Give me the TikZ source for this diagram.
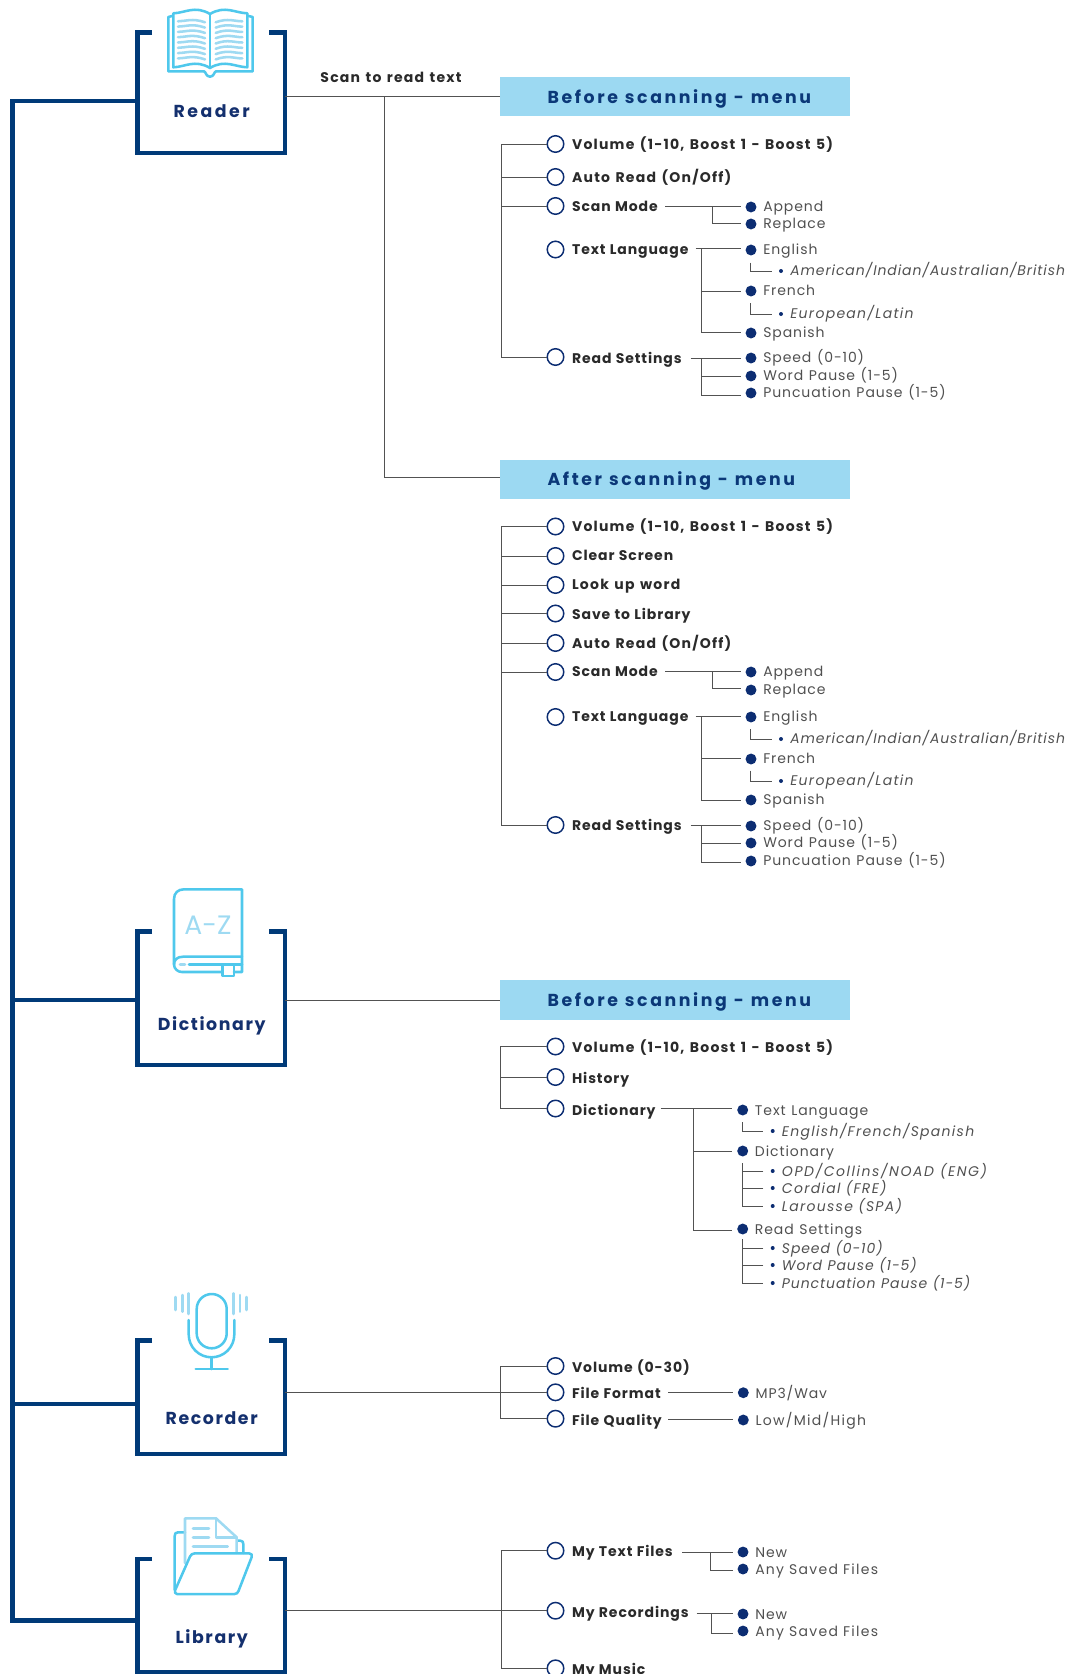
\documentclass[tikz,border=0pt]{standalone}
\usepackage{fontspec}
\setmainfont{Poppins}
\newfontfamily\fLab[LetterSpace=6.5,WordSpace=1.3]{Poppins}
\newfontfamily\fLabW[LetterSpace=8.8,WordSpace=1.3]{Poppins}
\newfontfamily\fReg[LetterSpace=6.5,WordSpace=1.1]{Poppins}
\newfontfamily\fRegW[LetterSpace=9.2,WordSpace=1.1]{Poppins}
\newfontfamily\fRegX[LetterSpace=11,WordSpace=1.1]{Poppins}
\newfontfamily\fHead[LetterSpace=15,WordSpace=1.1]{Poppins}
\newfontfamily\fBox[LetterSpace=9.2]{Poppins}
\newfontfamily\fBoxWide[LetterSpace=14.5]{Poppins}
\definecolor{navy}{HTML}{003A78}
\definecolor{txtnavy}{HTML}{14306E}
\definecolor{dotnavy}{HTML}{0C2D72}
\definecolor{headblue}{HTML}{9CD9F2}
\definecolor{headtxt}{HTML}{0B3878}
\definecolor{iconA}{HTML}{4FC8EC}
\definecolor{iconB}{HTML}{9EDAF2}
\definecolor{darktxt}{HTML}{2A2A2A}
\definecolor{regtxt}{HTML}{505050}
\tikzset{
 conn/.style={draw=black!68,line width=0.75pt},
 frame/.style={draw=navy,line width=3.5pt,miter limit=10},
 navyline/.style={draw=navy,line width=3.5pt},
 ringnode/.style={circle,draw=dotnavy,line width=1.1pt,fill=white,minimum size=12.4pt,inner sep=0pt,outer sep=0pt},
 dotnode/.style={circle,fill=dotnavy,minimum size=8.2pt,inner sep=0pt,outer sep=3.75pt},
 subdot/.style={circle,fill=dotnavy,minimum size=3pt,inner sep=0pt,outer sep=0pt},
 lab/.style={anchor=mid west,inner sep=0pt,yshift=-1pt,text=darktxt,font=\fontsize{10.5}{12}\fLab\bfseries},
 reg/.style={anchor=mid west,inner sep=0pt,yshift=-1pt,text=regtxt,font=\fontsize{10.5}{12}\fReg},
 ital/.style={anchor=mid west,inner sep=0pt,yshift=-1pt,text=regtxt,font=\fontsize{10.5}{12}\fReg\itshape},
 headnode/.style={anchor=north west,fill=headblue,inner sep=0pt,minimum width=262.5pt},
 headlab/.style={anchor=mid west,inner sep=0pt,yshift=-2pt,text=headtxt,font=\fontsize{13}{15}\fHead\bfseries},
 boxlab/.style={anchor=mid,inner sep=0pt,yshift=-2pt,text=txtnavy,font=\fontsize{13}{15}\fBox\bfseries},
 iconmain/.style={draw=iconA,line width=1.9pt,line join=round,line cap=round},
 iconsoft/.style={draw=iconB,line width=1.9pt,line join=round,line cap=round},
}
\newcommand\navybox[5]{%
 \node[inner sep=0pt,outer sep=0pt,minimum width=110.4pt,minimum height={(#3-#2)*0.75pt}] (#1) at (211.4,{(#2+#3)/2}) {};
 \draw[frame] (152,#2) -- (137.8,#2) -- (137.8,#3) -- (285,#3) -- (285,#2) -- (269,#2);
 \node[boxlab] (#1L) at (211.7,#4) {#5};}
\newcommand\ringlab[5]{%
 \node[ringnode] (#1) at (555.5,#2) {};
 \node[lab] (#1L) at (571.8,#3) {#4#5};}
\newcommand\dotlab[5]{%
 \node[dotnode] (#1) at (#2,#3) {};
 \node[reg] (#1L) at (#2+12,#4) {#5};}
\newcommand\sublab[4]{%
 \node[subdot] (#1) at (#2,#3) {};
 \node[ital] (#1L) at (#2+9,#3) {#4};}
\begin{document}
\begin{tikzpicture}[x=0.75pt,y=-0.75pt]
\path[use as bounding box,clip] (0,0) rectangle (1082,1674);
% boxes
\navybox{reader}{32.3}{153}{110.7}{{\fBoxWide\bfseries Reader}}
\navybox{dict}{931.7}{1065}{1024}{Dictionary}
\navybox{recorder}{1340.5}{1454}{1417.7}{Recorder}
\navybox{library}{1559}{1672.5}{1636.7}{Library}
% main trunk
\coordinate (mT) at (12.2,101);
\coordinate (mD) at (12.2,1000);
\coordinate (mR) at (12.2,1404);
\coordinate (mB) at (12.2,1620.8);
\draw[navyline] (reader.west |- mT) -- (mT) -- (mB) -- (library.west |- mB);
\draw[navyline] (mD) -- (dict.west |- mD);
\draw[navyline] (mR) -- (recorder.west |- mR);
% headers
\node[headnode,minimum height=29pt] (h1) at (500,77) {};
\node[headlab] (h1L) at (547.3,96.7) {Before scanning - menu};
\node[headnode,minimum height=29pt] (h2) at (500,460) {};
\node[headlab] (h2L) at (547.3,479.5) {After scanning - menu};
\node[headnode,minimum height=30pt] (h3) at (500,980) {};
\node[headlab] (h3L) at (547.3,1000) {Before scanning - menu};
\coordinate (rA) at (384,96);
\coordinate (rB) at (384,477.5);
\draw[conn] (reader.east |- rA) -- (h1.west |- rA);
\draw[conn] (rA) -- (rB) -- (h2.west |- rB);
\node[lab,anchor=mid] (scan) at (391,78) {\fLabW Scan to read text};
\coordinate (dA) at (384,1000);
\draw[conn] (dict.east |- dA) -- (h3.west |- dA);
% ---- section 1
\ringlab{a1}{144}{145}{\fLabW Volume (1-10, Boost 1 - Boost 5)}{}
\ringlab{a2}{177}{178}{\fLabW Auto Read (On/Off)}{}
\ringlab{a3}{206}{207}{Scan Mode}{}
\ringlab{a4}{249.5}{250}{Text Language}{}
\ringlab{a5}{357}{359}{Read Settings}{}
\coordinate (aT) at (501,144);
\draw[conn] (a5 -| aT) -- (aT) -- (a1.west);
\draw[conn] (a2 -| aT) -- (a2.west);
\draw[conn] (a3 -| aT) -- (a3.west);
\draw[conn] (a5 -| aT) -- (a5.west);
\dotlab{a31}{751}{207}{207}{Append}
\dotlab{a32}{751}{224}{224}{Replace}
\coordinate (a3s) at (665.3,206);\coordinate (a3j) at (712.3,206);\coordinate (a3e) at (712.3,223.3);
\draw[conn] (a3s) -- (a3s -| a31.west);
\draw[conn] (a3j) -- (a3e) -- (a3e -| a32.west);
\dotlab{a41}{751}{250}{250}{English}
\dotlab{a42}{751}{291}{291}{French}
\dotlab{a43}{751}{333}{333}{Spanish}
\coordinate (a4s) at (695.7,248.3);\coordinate (a4j) at (701.3,248.3);\coordinate (a4m) at (701.3,291);\coordinate (a4e) at (701.3,332);
\draw[conn] (a4s) -- (a4s -| a41.west);
\draw[conn] (a4j) -- (a4e) -- (a4e -| a43.west);
\draw[conn] (a4m) -- (a4m -| a42.west);
\sublab{a411}{781}{271}{American/Indian/Australian/British}
\sublab{a421}{781}{314}{\fRegW European/Latin}
\coordinate (a41c) at (750.3,262.7);\coordinate (a42c) at (750.3,303);
\draw[conn] (a41c) |- ([xshift=-5.5pt]a411.west);
\draw[conn] (a42c) |- ([xshift=-5.5pt]a421.west);
\dotlab{a51}{751}{358}{358}{Speed (0-10)}
\dotlab{a52}{751}{376}{376}{Word Pause (1-5)}
\dotlab{a53}{751}{393}{393}{Puncuation Pause (1-5)}
\coordinate (a5s) at (690.7,358);\coordinate (a5j) at (701.3,358);\coordinate (a5m) at (701.3,376);\coordinate (a5e) at (701.3,395);
\draw[conn] (a5s) -- (a5s -| a51.west);
\draw[conn] (a5j) -- (a5e) -- (a5e -| a53.west);
\draw[conn] (a5m) -- (a5m -| a52.west);
% ---- section 2
\ringlab{b1}{526.5}{527}{\fLabW Volume (1-10, Boost 1 - Boost 5)}{}
\ringlab{b2}{556}{556}{Clear Screen}{}
\ringlab{b3}{585}{585}{\fLabW Look up word}{}
\ringlab{b4}{613.5}{615}{Save to Library}{}
\ringlab{b5}{643}{644}{\fLabW Auto Read (On/Off)}{}
\ringlab{b6}{672}{672}{Scan Mode}{}
\ringlab{b7}{717}{717}{Text Language}{}
\ringlab{b8}{825}{826}{Read Settings}{}
\coordinate (bT) at (501,526.5);
\draw[conn] (b8 -| bT) -- (bT) -- (b1.west);
\foreach \n in {b2,b3,b4,b5,b6,b8} {\draw[conn] (\n -| bT) -- (\n.west);}
\dotlab{b61}{751}{672}{672}{Append}
\dotlab{b62}{751}{690}{690}{Replace}
\coordinate (b6s) at (665.3,671.7);\coordinate (b6j) at (712.3,671.7);\coordinate (b6e) at (712.3,688.7);
\draw[conn] (b6s) -- (b6s -| b61.west);
\draw[conn] (b6j) -- (b6e) -- (b6e -| b62.west);
\dotlab{b71}{751}{717}{717}{English}
\dotlab{b72}{751}{759}{759}{French}
\dotlab{b73}{751}{800}{800}{Spanish}
\coordinate (b7s) at (695.7,716);\coordinate (b7j) at (701.3,716);\coordinate (b7m) at (701.3,758.3);\coordinate (b7e) at (701.3,800);
\draw[conn] (b7s) -- (b7s -| b71.west);
\draw[conn] (b7j) -- (b7e) -- (b7e -| b73.west);
\draw[conn] (b7m) -- (b7m -| b72.west);
\sublab{b711}{781}{739}{American/Indian/Australian/British}
\sublab{b721}{781}{781}{\fRegW European/Latin}
\coordinate (b71c) at (750.3,729.3);\coordinate (b72c) at (750.3,770.7);
\draw[conn] (b71c) |- ([xshift=-5.5pt]b711.west);
\draw[conn] (b72c) |- ([xshift=-5.5pt]b721.west);
\dotlab{b81}{751}{826}{826}{Speed (0-10)}
\dotlab{b82}{751}{843}{843}{Word Pause (1-5)}
\dotlab{b83}{751}{861}{861}{Puncuation Pause (1-5)}
\coordinate (b8s) at (690.7,825.3);\coordinate (b8j) at (701.3,825.3);\coordinate (b8m) at (701.3,843.3);\coordinate (b8e) at (701.3,862.3);
\draw[conn] (b8s) -- (b8s -| b81.west);
\draw[conn] (b8j) -- (b8e) -- (b8e -| b83.west);
\draw[conn] (b8m) -- (b8m -| b82.west);
% ---- section 3
\ringlab{c1}{1046.5}{1047}{\fLabW Volume (1-10, Boost 1 - Boost 5)}{}
\ringlab{c2}{1077}{1078}{History}{}
\ringlab{c3}{1108.5}{1110}{Dictionary}{}
\coordinate (cT) at (500.7,1046.5);
\draw[conn] (c3 -| cT) -- (cT) -- (c1.west);
\draw[conn] (c2 -| cT) -- (c2.west);
\draw[conn] (c3 -| cT) -- (c3.west);
\dotlab{c31}{742.7}{1110}{1110}{Text Language}
\dotlab{c32}{742.7}{1151}{1151}{Dictionary}
\dotlab{c33}{742.7}{1229}{1229}{Read Settings}
\coordinate (c3s) at (660.7,1108.7);\coordinate (c3j) at (693,1108.7);\coordinate (c3m) at (693,1151.7);\coordinate (c3e) at (693,1230);
\draw[conn] (c3s) -- (c3s -| c31.west);
\draw[conn] (c3j) -- (c3e) -- (c3e -| c33.west);
\draw[conn] (c3m) -- (c3m -| c32.west);
\sublab{c311}{772.7}{1131}{\fRegW English/French/Spanish}
\sublab{c321}{772.7}{1171}{\fRegX OPD/Collins/NOAD (ENG)}
\sublab{c322}{772.7}{1188}{\fRegW Cordial (FRE)}
\sublab{c323}{772.7}{1206}{\fRegW Larousse (SPA)}
\sublab{c331}{772.7}{1248}{Speed (0-10)}
\sublab{c332}{772.7}{1265}{Word Pause (1-5)}
\sublab{c333}{772.7}{1283}{Punctuation Pause (1-5)}
\coordinate (c31c) at (742.3,1122.3);\coordinate (c32c) at (742.3,1163.3);\coordinate (c33c) at (742.3,1239.3);
\draw[conn] (c31c) |- ([xshift=-5.5pt]c311.west);
\draw[conn] (c32c) |- ([xshift=-5.5pt]c323.west);
\draw[conn] (c33c) |- ([xshift=-5.5pt]c333.west);
\foreach \n in {c321,c322,c331,c332} {\draw[conn] ([xshift=-5.5pt]\n.west) -- ++(-21.2,0);}
% ---- section 4
\ringlab{d1}{1366}{1367}{Volume (0-30)}{}
\ringlab{d2}{1392.3}{1393}{File Format}{}
\ringlab{d3}{1418.7}{1420}{File Quality}{}
\coordinate (dT) at (500.5,1366);
\draw[conn] (d3 -| dT) -- (dT) -- (d1.west);
\draw[conn] (d3 -| dT) -- (d3.west);
\draw[conn] (recorder.east |- d2) -- (d2.west);
\dotlab{d21}{743.3}{1392.7}{1393}{MP3/Wav}
\dotlab{d31}{743.3}{1420}{1420}{\fRegW Low/Mid/High}
\coordinate (d2s) at (668.3,1392.3);\coordinate (d3s) at (668.3,1419.3);
\draw[conn] (d2s) -- (d2s -| d21.west);
\draw[conn] (d3s) -- (d3s -| d31.west);
% ---- section 5
\ringlab{e1}{1550.7}{1551}{My Text Files}{}
\ringlab{e2}{1610.7}{1612}{My Recordings}{}
\ringlab{e3}{1668.3}{1669}{My Music}{}
\coordinate (eT) at (501,1550.7);
\draw[conn] (e3 -| eT) -- (eT) -- (e1.west);
\draw[conn] (e3 -| eT) -- (e3.west);
\draw[conn] (library.east |- e2) -- (e2.west);
\dotlab{e11}{743}{1552}{1552}{New}
\dotlab{e12}{743}{1569}{1569}{\fRegW Any Saved Files}
\dotlab{e21}{743}{1614}{1614}{New}
\dotlab{e22}{743}{1631}{1631}{\fRegW Any Saved Files}
\coordinate (e1s) at (682,1552.3);\coordinate (e1j) at (710.7,1552.3);\coordinate (e1e) at (710.7,1570);
\coordinate (e2s) at (696.7,1613);\coordinate (e2j) at (711,1613);\coordinate (e2e) at (711,1633.3);
\draw[conn] (e1s) -- (e1s -| e11.west);
\draw[conn] (e1j) -- (e1e) -- (e1e -| e12.west);
\draw[conn] (e2s) -- (e2s -| e21.west);
\draw[conn] (e2j) -- (e2e) -- (e2e -| e22.west);
% ---- icons: book
\draw[iconmain] (173.3,15.7) -- (168.3,17) -- (168.3,71.3) -- (204,71.3) .. controls (206,72) and (206,76.7) .. (210,76.7) .. controls (214,76.7) and (214,72) .. (216,71.3) -- (252.7,71.3) -- (252.7,17) -- (247.3,15.7);
\draw[iconmain,fill=white] (173.3,13.3) .. controls (185,13) and (195,5) .. (210,14) .. controls (225,5) and (235,13) .. (247.3,13.3) -- (247.3,67.3) .. controls (235,67) and (225,59) .. (210,68) .. controls (195,59) and (185,67) .. (173.3,67.3) -- cycle;
\draw[iconmain] (210,14) -- (210,68);
\foreach \yy in {21.3,26.6,31.9,37.2,42.5,47.8,53.1,58.4} {
 \draw[iconsoft] (178,\yy) .. controls (186,\yy) and (192,\yy-3.5) .. (205,\yy+1);
 \draw[iconsoft] (215.7,\yy+1) .. controls (228,\yy-3.5) and (234,\yy) .. (242.3,\yy);
}
% dictionary icon
\draw[iconmain] (242,956.7) -- (242,889.3) -- (184,889.3) .. controls (178,889.3) and (174,893) .. (174,899) -- (174,964.5) .. controls (174,969) and (178,972) .. (182,972) -- (222.3,972);
\draw[iconmain] (234,972) -- (242,972) -- (242,956.7) -- (183,956.7) .. controls (177,956.7) and (174,960) .. (174,964.5);
\draw[iconmain] (189,964.7) -- (242,964.7);
\draw[iconsoft] (180,964.7) -- (185,964.7);
\draw[iconmain] (222.3,965) -- (222.3,976) -- (234,976) -- (234,965);
\node[anchor=center,inner sep=0pt,text=iconB,font=\fontsize{20}{22}\selectfont] (az) at (208,925) {A-Z};
% microphone
\draw[iconmain] (196.7,1309) arc (180:360:15) -- (226.7,1333.3) arc (0:180:15) -- cycle;
\draw[iconmain] (188.7,1320) -- (188.7,1334.5) arc (180:0:22.8) -- (234.3,1320);
\draw[iconmain] (211.4,1357.3) -- (211.4,1369);
\draw[iconmain] (195.7,1369) -- (227.7,1369);
\draw[iconsoft] (175.7,1297) -- (175.7,1310);
\draw[iconsoft] (182.3,1295) -- (182.3,1311.7);
\draw[iconsoft] (188.7,1293.3) -- (188.7,1314);
\draw[iconsoft] (233.7,1293.3) -- (233.7,1314);
\draw[iconsoft] (240,1295) -- (240,1311.7);
\draw[iconsoft] (246.7,1297) -- (246.7,1310);
% folder
\draw[iconmain] (185,1532.3) -- (178,1532.3) .. controls (175.5,1532.3) and (174.7,1533.5) .. (174.7,1536) -- (174.7,1590);
\draw[iconmain] (237.3,1540.7) -- (240.5,1540.7) .. controls (242.5,1540.7) and (243.3,1542) .. (243.3,1544) -- (243.3,1553);
\draw[iconsoft] (185,1563) -- (185,1518.3) -- (216,1518.3) -- (236.7,1537.3) -- (236.7,1553);
\draw[iconsoft] (216,1518.3) -- (216,1537.3) -- (236.7,1537.3);
\draw[iconsoft] (193,1528.3) -- (209,1528.3);
\draw[iconsoft] (193,1537.3) -- (209,1537.3);
\draw[iconsoft] (193,1546.7) -- (227.7,1546.7);
\draw[iconmain] (195,1553.3) -- (249,1553.3) .. controls (251.5,1553.3) and (252.5,1555) .. (251.7,1557) -- (238.5,1591) .. controls (237.7,1593) and (236.5,1594) .. (234.5,1594) -- (177,1594) .. controls (175,1594) and (174.5,1592) .. (175.2,1590) -- (190,1556.5) .. controls (191,1554.5) and (192.5,1553.3) .. (195,1553.3) -- cycle;
\end{tikzpicture}
\end{document}
